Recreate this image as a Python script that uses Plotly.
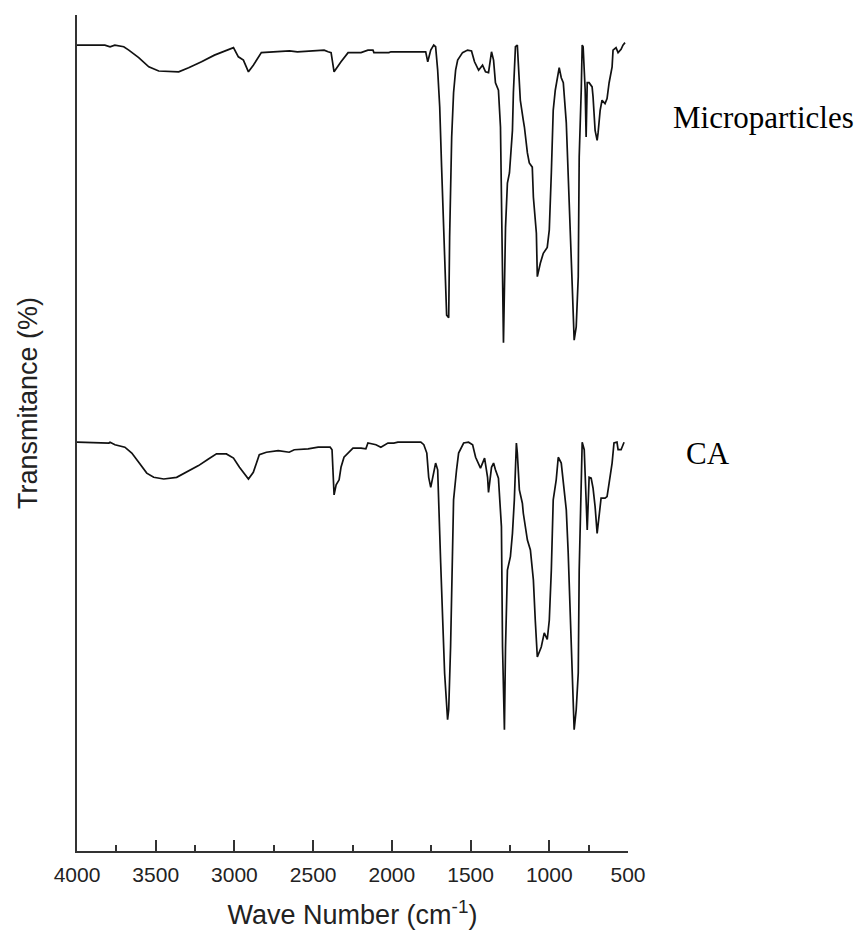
import plotly.graph_objects as go

# ---- data ----
micro_wn = [4000, 3823, 3790, 3760, 3703, 3671, 3608, 3544, 3481, 3354, 3291, 3209, 3127, 3038, 3006,
            2975, 2943, 2911, 2880, 2829, 2766, 2650, 2600, 2430, 2405, 2386, 2367, 2342, 2323, 2278,
            2196, 2152, 2120, 2114, 2019, 2006, 1785, 1772, 1753, 1734, 1722, 1709, 1696, 1684, 1671,
            1665, 1652, 1639, 1633, 1620, 1608, 1595, 1582, 1551, 1519, 1494, 1475, 1449, 1424, 1405,
            1386, 1367, 1354, 1342, 1323, 1310, 1297, 1291, 1278, 1266, 1253, 1234, 1228, 1215, 1203,
            1196, 1184, 1165, 1158, 1139, 1127, 1108, 1101, 1082, 1076, 1057, 1038, 1013, 1000, 987,
            975, 962, 949, 937, 924, 911, 892, 880, 867, 854, 842, 829, 816, 810, 797,
            791, 785, 772, 766, 759, 747, 728, 722, 709, 696, 690, 677, 665, 646, 633,
            620, 601, 595, 576, 563, 544, 532, 519]
micro_t = [96.4, 96.4, 96.2, 96.4, 96.2, 95.8, 94.9, 93.8, 93.3, 93.2, 93.7, 94.4, 95.2, 95.9, 96.1,
           95.0, 94.6, 93.2, 94.0, 95.5, 95.6, 95.7, 95.6, 95.8, 95.6, 95.5, 93.2, 93.8, 94.4, 95.5,
           95.5, 95.8, 95.8, 95.5, 95.5, 95.6, 95.6, 94.4, 95.8, 96.4, 96.2, 93.4, 89.0, 81.8, 74.6,
           69.9, 64.1, 63.8, 73.4, 85.4, 90.7, 93.4, 94.6, 95.5, 95.8, 95.7, 94.4, 93.4, 94.0, 93.2,
           93.1, 95.6, 94.6, 91.9, 91.0, 86.6, 72.2, 60.8, 74.6, 79.9, 81.1, 86.2, 90.7, 96.2, 96.4,
           94.3, 89.8, 87.4, 86.6, 83.5, 82.3, 81.8, 78.2, 73.9, 68.7, 70.3, 71.5, 72.2, 74.3, 81.1,
           88.6, 91.0, 92.5, 93.7, 92.5, 91.9, 87.1, 81.5, 74.6, 67.5, 61.1, 62.7, 68.7, 83.0, 91.0,
           96.4, 96.2, 91.0, 85.4, 91.9, 91.9, 91.4, 90.2, 86.2, 85.0, 85.9, 88.6, 89.8, 89.4, 90.0,
           91.9, 93.8, 95.8, 96.1, 95.5, 95.9, 96.4, 96.7]

ca_wn = [4000, 3861, 3797, 3790, 3759, 3696, 3652, 3608, 3557, 3513, 3449, 3367, 3304, 3228, 3165,
         3114, 3051, 3006, 2968, 2911, 2880, 2842, 2797, 2722, 2652, 2620, 2532, 2468, 2392, 2380,
         2367, 2354, 2335, 2323, 2304, 2247, 2196, 2165, 2152, 2101, 2070, 2025, 1987, 1962, 1816,
         1797, 1778, 1766, 1753, 1734, 1722, 1709, 1703, 1690, 1677, 1665, 1646, 1639, 1627, 1614,
         1608, 1589, 1576, 1544, 1513, 1487, 1468, 1437, 1411, 1392, 1386, 1367, 1354, 1342, 1323,
         1304, 1297, 1285, 1278, 1266, 1247, 1234, 1222, 1209, 1203, 1190, 1171, 1165, 1139, 1120,
         1101, 1089, 1076, 1051, 1032, 1013, 1000, 987, 975, 956, 943, 924, 911, 892, 880,
         867, 854, 842, 829, 816, 810, 797, 791, 778, 766, 759, 747, 734, 722, 709,
         696, 684, 671, 646, 633, 620, 601, 589, 570, 563, 544, 525]
ca_t = [48.9, 48.8, 48.8, 48.9, 48.6, 48.3, 47.6, 46.5, 45.2, 44.7, 44.5, 44.7, 45.3, 46.1, 46.9,
        47.5, 47.5, 47.0, 45.9, 44.5, 45.3, 47.4, 47.7, 47.9, 47.7, 48.0, 48.1, 48.3, 48.3, 48.0,
        42.6, 43.8, 44.4, 45.9, 47.1, 48.2, 48.2, 48.1, 48.8, 48.6, 48.3, 48.8, 48.8, 48.9, 48.9,
        48.6, 47.6, 44.7, 43.5, 45.6, 46.4, 45.6, 41.6, 34.5, 27.6, 21.3, 15.7, 16.9, 24.4, 35.7,
        42.0, 45.6, 47.6, 48.8, 48.9, 48.6, 47.1, 45.8, 47.0, 44.7, 42.9, 45.9, 46.4, 45.6, 44.6,
        38.8, 24.4, 14.5, 24.4, 33.6, 35.2, 38.0, 42.0, 48.8, 47.6, 43.2, 41.6, 40.4, 37.2, 36.0,
        32.4, 27.6, 23.2, 24.4, 26.1, 25.3, 27.6, 33.6, 42.0, 44.4, 47.1, 46.4, 44.4, 40.8, 35.7,
        28.0, 20.5, 14.5, 16.9, 21.3, 33.6, 42.0, 48.9, 48.0, 40.8, 38.4, 44.7, 44.6, 43.4, 41.2,
        38.0, 40.4, 42.2, 42.2, 42.4, 44.0, 46.4, 48.8, 48.9, 48.0, 48.0, 48.9]

series_names = ["Microparticles", "CA"]
x_ticks = [4000, 3500, 3000, 2500, 2000, 1500, 1000, 500]
x_title = "Wave Number (cm<sup>-1</sup>)"
y_title = "Transmitance (%)"

# ---- figure ----
W, H = 861, 930
L, R, T, B = 77, 233, 15, 79
pw, ph = W - L - R, H - T - B

def px_x(px):
    return (px - L) / pw

def px_y(py):
    return (H - B - py) / ph

fig = go.Figure()
line = dict(color="#111111", width=1.7)
fig.add_trace(go.Scatter(x=micro_wn, y=micro_t, mode="lines", line=line, name=series_names[0]))
fig.add_trace(go.Scatter(x=ca_wn, y=ca_t, mode="lines", line=line, name=series_names[1]))

axis_font = dict(family="Liberation Sans, Arial, sans-serif", color="#222222")

fig.update_layout(
    width=W, height=H,
    margin=dict(l=L, r=R, t=T, b=B, pad=0, autoexpand=False),
    paper_bgcolor="white", plot_bgcolor="white",
    showlegend=False,
    xaxis=dict(
        range=[4000, 500], autorange=False, automargin=False,
        tickmode="array", tickvals=x_ticks, ticktext=[str(v) for v in x_ticks],
        ticks="inside", ticklen=11, tickwidth=2, tickcolor="#333333",
        minor=dict(dtick=250, tick0=0, ticks="inside", ticklen=6, tickwidth=2, tickcolor="#333333"),
        showline=True, linecolor="#333333", linewidth=2,
        showgrid=False, zeroline=False,
        ticklabelstandoff=4,
        tickfont=dict(size=21, **axis_font),
        title=dict(text=x_title, font=dict(size=27, **axis_font), standoff=22),
    ),
    yaxis=dict(
        range=[0, 100], autorange=False, automargin=False,
        showticklabels=False, ticks="",
        showline=True, linecolor="#333333", linewidth=2,
        showgrid=False, zeroline=False,
    ),
    annotations=[
        dict(text=y_title, xref="paper", yref="paper", x=px_x(28), y=px_y(403),
             xanchor="center", yanchor="middle", textangle=-90, showarrow=False,
             font=dict(size=27, **axis_font)),
        dict(text=series_names[0], xref="paper", yref="paper", x=px_x(671), y=px_y(117),
             xanchor="left", yanchor="middle", showarrow=False,
             font=dict(size=31, family="Liberation Serif, Times New Roman, serif", color="black")),
        dict(text=series_names[1], xref="paper", yref="paper", x=px_x(684), y=px_y(453),
             xanchor="left", yanchor="middle", showarrow=False,
             font=dict(size=31, family="Liberation Serif, Times New Roman, serif", color="black")),
    ],
)

fig.write_html("out.html")
